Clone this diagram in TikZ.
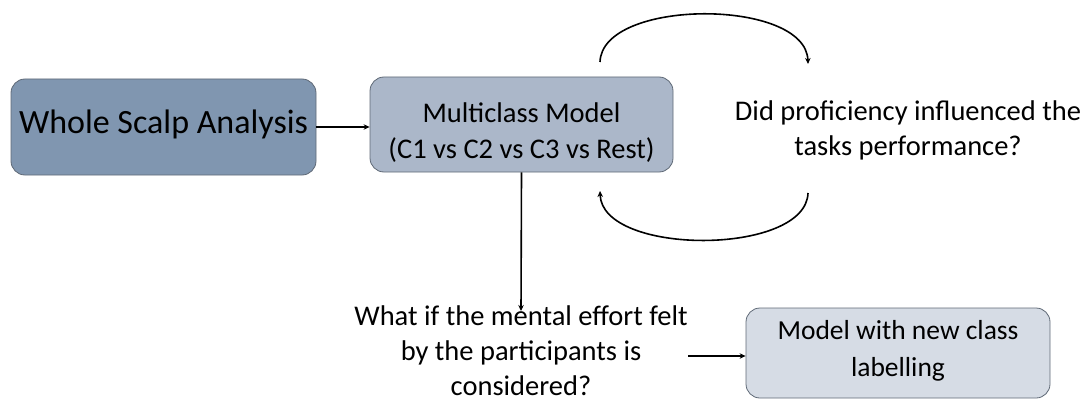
\documentclass[tikz,border=0pt]{standalone}
\usepackage{fontspec}
\setmainfont{Carlito}
\usetikzlibrary{arrows.meta}
\definecolor{boxdark}{RGB}{128,150,176}
\definecolor{boxmid}{RGB}{171,183,201}
\definecolor{boxlight}{RGB}{214,220,229}
\definecolor{boxedge}{RGB}{95,105,118}
\begin{document}
\begin{tikzpicture}[x=1pt,y=-1pt,
  blk/.style={draw=boxedge,line width=0.8pt,rounded corners=14pt,align=center,inner sep=0pt},
  qtext/.style={align=center,inner sep=0pt,anchor=base,font=\fontsize{28.5}{35}\selectfont},
  link/.style={line width=1.6pt,-{Stealth[length=6pt,width=5.5pt]}}]
\useasboundingbox (0,0) rectangle (1086,401);
% boxes (text height/depth place the last baseline inside each box)
\node[blk,fill=boxdark,minimum width=305pt,minimum height=96pt,
  text height=32pt,text depth=20pt,font=\fontsize{34}{40}\selectfont]
  (wsa) at (163.5,127) {Whole Scalp Analysis};
\node[blk,fill=boxmid,minimum width=303pt,minimum height=95pt,
  text height=70pt,text depth=3pt,font=\fontsize{28.5}{36}\selectfont]
  (mcm) at (521.5,124.5) {Multiclass Model\\(C1 vs C2 vs C3 vs Rest)};
\node[blk,fill=boxlight,minimum width=304pt,minimum height=90pt,
  text height=50pt,text depth=4pt,font=\fontsize{27.5}{37}\selectfont]
  (nml) at (898,353) {Model with new class\\labelling};
% questions (anchored at the baseline of their last line)
\node[qtext] (prof) at (908,155) {Did proficiency influenced the\\tasks performance?};
\node[qtext] (eff) at (521,395) {What if the mental effort felt\\by the participants is\\considered?};
% straight connectors
\draw[link] (wsa.east) -- (mcm.west |- wsa.east);
\draw[link] (mcm.south) -- (521,311);
\coordinate (effout) at (688,356);
\draw[link] (effout) -- (nml.west |- effout);
% curved loop around the question
\coordinate (ta) at (600,62);
\coordinate (tb) at (808,64);
\coordinate (ba) at (808,193);
\coordinate (bb) at (600,191);
\draw[link] (ta) .. controls (602,-2) and (806,-2) .. (tb);
\draw[link] (ba) .. controls (806,256) and (602,256) .. (bb);
\end{tikzpicture}
\end{document}
